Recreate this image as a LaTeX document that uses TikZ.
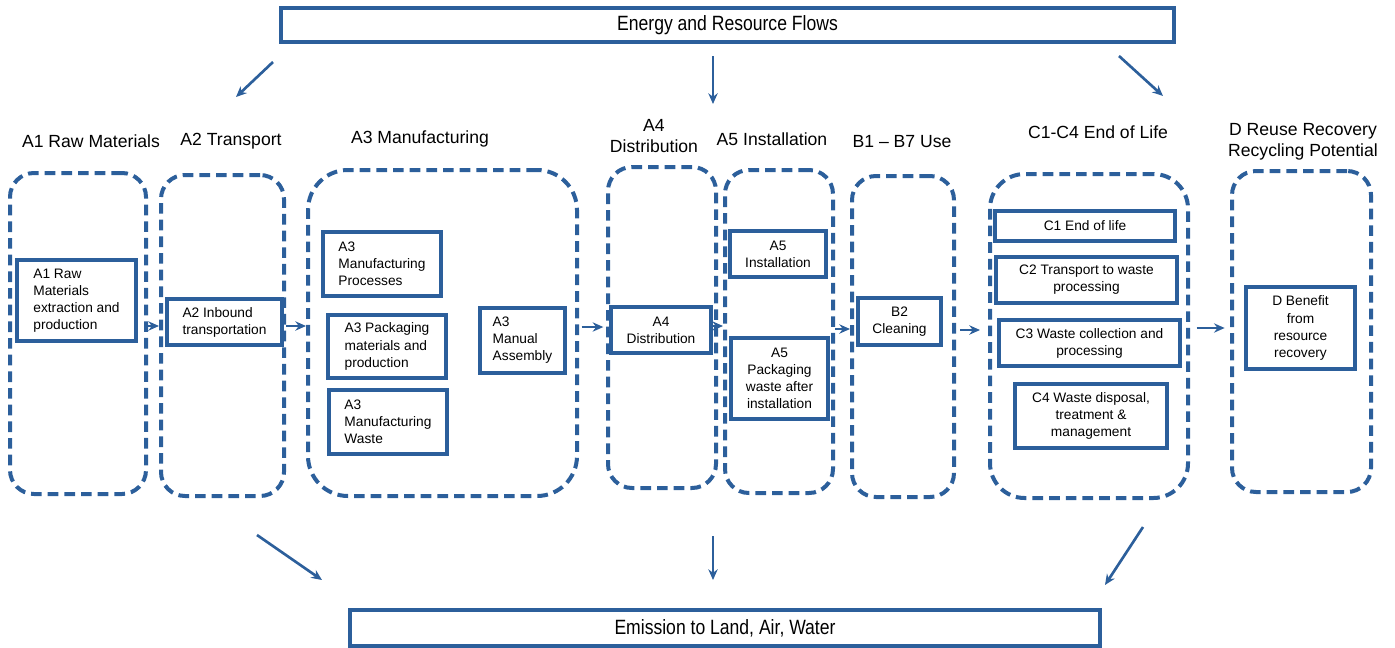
\documentclass[tikz,border=0pt]{standalone}
\usepackage{fontspec}
\setmainfont{Liberation Sans}
\newfontfamily\narrowfont[FakeStretch=0.85]{Liberation Sans}
\usetikzlibrary{arrows.meta}
\definecolor{lca}{RGB}{44,95,155}
\begin{document}
\begin{tikzpicture}[x=0.75pt,y=-0.75pt,
  rect/.style n args={4}{minimum width={(#3-#1)*0.75pt}, minimum height={(#4-#2)*0.75pt}, at={({(#1+#3)/2},{(#2+#4)/2})}},
  container/.style={draw=lca, line width=3pt, dash pattern=on 8pt off 4.5pt, rounded corners=18pt, inner sep=0pt},
  stage/.style={draw=lca, line width=2.4pt, inner sep=0pt, font=\fontsize{10.3}{12.8}\selectfont, align=center, text=black},
  head/.style={font=\fontsize{13.2}{16}\selectfont, align=center, text=black},
  flowbox/.style={draw=lca, line width=2.4pt, inner sep=0pt, font=\narrowfont\fontsize{15.5}{18}\selectfont, text=black},
  arr/.style={draw=lca, line width=2pt, -{Stealth[length=8pt,width=7pt]}},
]
\useasboundingbox (0,0) rectangle (1395,647);

% flow boxes
\node[flowbox, rect={281}{8}{1174}{42}] (fb) {Energy and Resource Flows};
\node[flowbox, rect={350}{610}{1100}{646}] (em) {Emission to Land, Air, Water};

% headings
\node[head] (hA1) at (91,141) {A1 Raw Materials};
\node[head] (hA2) at (231,141) {A2 Transport};
\node[head] (hA3) at (420,139) {A3 Manufacturing};
\node[head] (hA4) at (654,136) {A4\\Distribution};
\node[head] (hA5) at (772,139) {A5 Installation};
\node[head] (hB) at (902,142) {B1 – B7 Use};
\node[head] (hC) at (1098,132) {C1-C4 End of Life};
\node[head] (hD) at (1303,142) {D Reuse Recovery\\Recycling Potential};

% containers
\node[container, rect={10}{173}{146}{494}] (cA1) {};
\node[container, rect={161}{175}{284}{496}] (cA2) {};
\node[container, rounded corners=30pt, rect={308}{170}{577}{496}] (cA3) {};
\node[container, rect={608}{167}{716}{488}] (cA4) {};
\node[container, rect={725}{170}{833}{493}] (cA5) {};
\node[container, rect={852}{176}{954}{497}] (cB) {};
\node[container, rounded corners=26pt, rect={990}{174}{1188}{498}] (cC) {};
\node[container, rect={1232}{171}{1371}{492}] (cD) {};

% inner stage boxes
\node[stage, align=left, fill=white, rect={17}{260}{136}{341}] (bA1) {A1 Raw\\Materials\\extraction and\\production};
\node[stage, align=left, fill=white, rect={167}{299}{282}{345}] (bA2) {A2 Inbound\\transportation};
\node[stage, align=left, rect={323}{232}{441}{296}] (bA3a) {A3\\Manufacturing\\Processes};
\node[stage, align=left, rect={328}{315}{446}{378}] (bA3b) {A3 Packaging\\materials and\\production};
\node[stage, align=left, rect={329}{390}{447}{454}] (bA3c) {A3\\Manufacturing\\Waste};
\node[stage, align=left, rect={480}{308}{565}{373}] (bA3d) {A3\\Manual\\Assembly};
\node[stage, fill=white, rect={611}{307}{711}{353}] (bA4) {A4\\Distribution};
\node[stage, rect={730}{231}{826}{277}] (bA5a) {A5\\Installation};
\node[stage, rect={731}{338}{828}{419}] (bA5b) {A5\\Packaging\\waste after\\installation};
\node[stage, rect={858}{298}{941}{345}] (bB2) {B2\\Cleaning};
\node[stage, rect={995}{211}{1175}{241}] (bC1) {C1 End of life};
\node[stage, rect={996}{257}{1177}{303}] (bC2) {C2 Transport to waste\\processing};
\node[stage, rect={999}{320}{1180}{366}] (bC3) {C3 Waste collection and\\processing};
\node[stage, rect={1015}{384}{1167}{448}] (bC4) {C4 Waste disposal,\\treatment \&\\management};
\node[stage, rect={1246}{287}{1355}{369}] (bD) {D Benefit\\from\\resource\\recovery};

% arrows between stages
\draw[arr] (cA1.east |- 0,326) -- (cA2.west |- 0,326);
\draw[arr] (cA2.east |- 0,326) -- (cA3.west |- 0,326);
\draw[arr, shorten <=2pt, shorten >=2pt] (cA3.east |- 0,327) -- (cA4.west |- 0,327);
\draw[arr] (bA4.east |- 0,326) -- (cA5.west |- 0,326);
\draw[arr] (cA5.east |- 0,329) -- (cB.west |- 0,329);
\draw[arr, shorten <=3pt, shorten >=6pt] (cB.east |- 0,330) -- (cC.west |- 0,330);
\draw[arr, shorten <=5pt, shorten >=4pt] (cC.east |- 0,328) -- (cD.west |- 0,328);

% energy flow arrows
\coordinate (t1s) at (273,62);  \coordinate (t1e) at (236,97);
\coordinate (t2s) at (713,56);  \coordinate (t2e) at (713,104);
\coordinate (t3s) at (1119,56); \coordinate (t3e) at (1163,96);
\draw[arr] (t1s) -- (t1e);
\draw[arr] (t2s) -- (t2e);
\draw[arr] (t3s) -- (t3e);

% emission arrows
\coordinate (e1s) at (257,535);  \coordinate (e1e) at (322,580);
\coordinate (e2s) at (713,536);  \coordinate (e2e) at (713,580);
\coordinate (e3s) at (1143,527); \coordinate (e3e) at (1105,585);
\draw[arr] (e1s) -- (e1e);
\draw[arr] (e2s) -- (e2e);
\draw[arr] (e3s) -- (e3e);
\end{tikzpicture}
\end{document}
